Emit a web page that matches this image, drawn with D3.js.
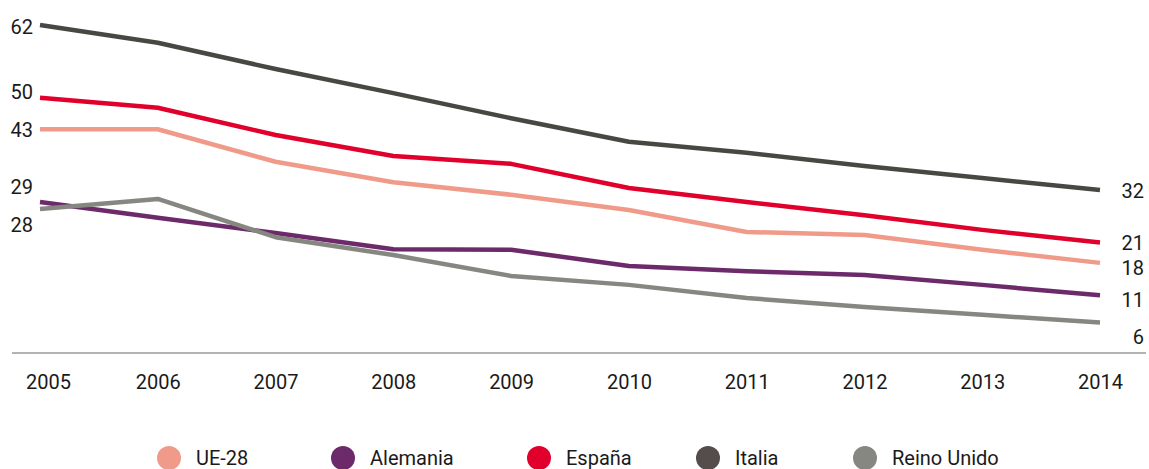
<!DOCTYPE html>
<html>
<head>
<meta charset="utf-8">
<script src="https://cdn.jsdelivr.net/npm/d3@7"></script>
<style>
  html, body { margin: 0; padding: 0; background: #fff; }
  svg { display: block; font-family: Roboto, "Noto Sans", sans-serif; font-weight: 400; }
</style>
</head>
<body>
<svg id="chart" width="1149" height="469"></svg>
<script>
// ---- data ----
const years = [2005, 2006, 2007, 2008, 2009, 2010, 2011, 2012, 2013, 2014];
const seriesNames = ["UE-28", "Alemania", "España", "Italia", "Reino Unido"];
const ue28      = [42.7, 42.7, 36.5, 32.6, 30.2, 27.3, 23.1, 22.5, 19.7, 17.2];
const alemania  = [28.8, 25.8, 22.9, 19.8, 19.7, 16.6, 15.6, 14.9, 13.0, 11.0];
const espana    = [48.7, 46.8, 41.6, 37.6, 36.1, 31.5, 28.8, 26.3, 23.5, 21.1];
const italia    = [62.6, 59.2, 54.2, 49.6, 44.8, 40.3, 38.2, 35.7, 33.4, 31.1];
const reinoUnido= [27.5, 29.4, 22.1, 18.7, 14.7, 13.0, 10.5, 8.8, 7.3, 5.8];
const startLabels = ["43", "29", "50", "62", "28"];
const endLabels   = ["18", "11", "21", "32", "6"];

// ---- styles / layout ----
const lineColors   = ["#f09a8a", "#6c2a6a", "#e0002b", "#484843", "#858780"];
const legendColors = ["#f09a8a", "#6c2a6a", "#e0002b", "#554c4c", "#858780"];
const startNudge = [2, -14, 1, -1, 19];    // px vertical dodge for left labels
const endNudge   = [9, 5, 0, 6, 15];       // px vertical dodge for right labels
const legendX = [169, 343, 539, 708, 865];

const values = [ue28, alemania, espana, italia, reinoUnido];
const series = seriesNames.map((name, i) => ({
  name, color: lineColors[i], legendColor: legendColors[i],
  start: startLabels[i], end: endLabels[i],
  points: years.map((y, j) => ({ year: y, value: values[i][j] }))
}));

const svg = d3.select("#chart");
const x = d3.scalePoint().domain(years).range([40, 1100]);
const y = d3.scaleLinear().domain([0, 60]).range([353, 353 - 60 * 5.24]);

// baseline axis
const xAxis = d3.axisBottom(x).tickSize(0).tickPadding(22);
const gx = svg.append("g").attr("transform", "translate(0,353)").call(xAxis);
gx.select(".domain").remove();
gx.selectAll("text")
  .attr("font-size", 20)
  .attr("fill", "#1a1a1a")
  .attr("font-family", "Roboto, sans-serif")
  .attr("font-weight", 400)
  .attr("dx", (d, i) => i === 0 ? 8 : 0);
svg.append("line")
  .attr("x1", 12).attr("x2", 1146)
  .attr("y1", y(0)).attr("y2", y(0))
  .attr("stroke", "#9a9a9a").attr("stroke-width", 1.5);

// lines
const line = d3.line().x(d => x(d.year)).y(d => y(d.value));
svg.append("g").selectAll("path")
  .data(series)
  .join("path")
  .attr("d", d => line(d.points))
  .attr("fill", "none")
  .attr("stroke", d => d.color)
  .attr("stroke-width", 4.5)
  .attr("stroke-linejoin", "round");

// start labels
svg.append("g").selectAll("text")
  .data(series)
  .join("text")
  .attr("x", 33)
  .attr("y", (d, i) => y(+d.start) + startNudge[i])
  .attr("text-anchor", "end")
  .attr("dominant-baseline", "central")
  .attr("font-size", 20)
  .attr("fill", "#1a1a1a")
  .text(d => d.start);

// end labels
svg.append("g").selectAll("text")
  .data(series)
  .join("text")
  .attr("x", 1144)
  .attr("y", (d, i) => y(+d.end) + endNudge[i])
  .attr("text-anchor", "end")
  .attr("dominant-baseline", "central")
  .attr("font-size", 20)
  .attr("fill", "#1a1a1a")
  .text(d => d.end);

// legend
const lg = svg.append("g").selectAll("g")
  .data(series)
  .join("g")
  .attr("transform", (d, i) => `translate(${legendX[i]},458)`);
lg.append("circle").attr("r", 12).attr("fill", d => d.legendColor);
lg.append("text")
  .attr("x", 27)
  .attr("y", 0)
  .attr("dominant-baseline", "central")
  .attr("font-size", 20)
  .attr("fill", "#1a1a1a")
  .text(d => d.name);
</script>
</body>
</html>
